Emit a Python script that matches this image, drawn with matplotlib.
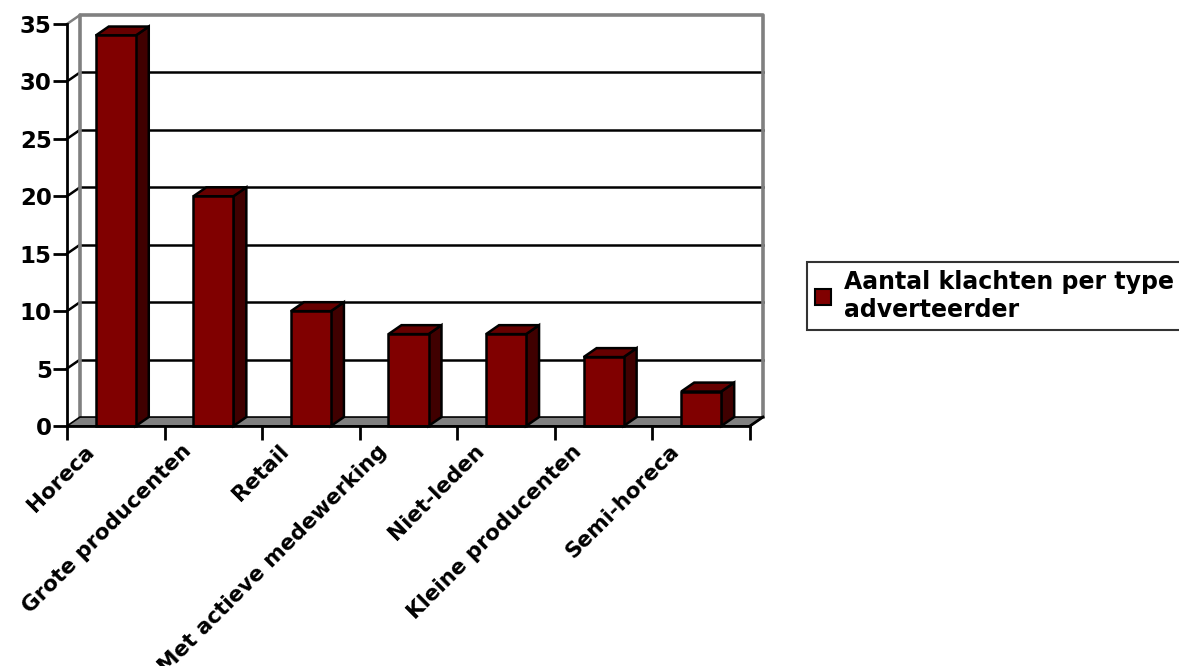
import matplotlib.pyplot as plt
from matplotlib.patches import Polygon, Patch

categories = ['Horeca', 'Grote producenten', 'Retail', 'Met actieve medewerking',
              'Niet-leden', 'Kleine producenten', 'Semi-horeca']
values = [34, 20, 10, 8, 8, 6, 3]
yticks = [0, 5, 10, 15, 20, 25, 30, 35]
series_name = 'Aantal klachten per type\nadverteerder'

FRONT = '#800000'
SIDE = '#400000'
TOP = '#660000'
WALL = '#808080'

plt.rcParams['font.family'] = ['DejaVu Sans']
plt.rcParams['font.weight'] = 'bold'

fig = plt.figure(figsize=(11.79, 6.66), dpi=100)
ax = fig.add_axes([67 / 1179, 1 - 426 / 666, 683 / 1179, 402 / 666])
n = len(categories)
ymax = yticks[-1]
ax.set_xlim(0, n)
ax.set_ylim(0, ymax)

# depth of the fake 3d box, in data units
dx = 0.133
dy = 0.78
lw = 1.8

# back wall: gridlines, gray edges and the little diagonals from the axis
for v in yticks[1:-1]:
    ax.plot([dx, n + dx], [v + dy, v + dy], color='black', lw=lw, clip_on=False, zorder=1)
    ax.plot([0, dx], [v, v + dy], color='black', lw=lw, clip_on=False, zorder=1)
ax.plot([dx, dx, n + dx, n + dx], [dy, ymax + dy, ymax + dy, dy],
        color=WALL, lw=2.6, clip_on=False, zorder=1)
ax.plot([0, dx], [ymax, ymax + dy], color=WALL, lw=lw, clip_on=False, zorder=1)

# floor
floor = Polygon([(0, 0), (n, 0), (n + dx, dy), (dx, dy)], closed=True,
                facecolor=WALL, edgecolor='black', lw=1.2, clip_on=False, zorder=2)
ax.add_patch(floor)

# bars
w = 0.41
for i, v in enumerate(values):
    xl = i + 0.5 - w / 2
    xr = i + 0.5 + w / 2
    side = Polygon([(xr, 0), (xr + dx, dy), (xr + dx, v + dy), (xr, v)],
                   facecolor=SIDE, edgecolor='black', lw=lw, clip_on=False, zorder=3)
    top = Polygon([(xl, v), (xr, v), (xr + dx, v + dy), (xl + dx, v + dy)],
                  facecolor=TOP, edgecolor='black', lw=lw, clip_on=False, zorder=3)
    front = Polygon([(xl, 0), (xr, 0), (xr, v), (xl, v)],
                    facecolor=FRONT, edgecolor='black', lw=lw, clip_on=False, zorder=4)
    for p in (side, top, front):
        ax.add_patch(p)

# axes: front left line and front bottom line with category ticks
for s in ('top', 'right'):
    ax.spines[s].set_visible(False)
ax.spines['left'].set_linewidth(2)
ax.spines['bottom'].set_linewidth(2)
ax.spines['left'].set_zorder(5)
ax.spines['bottom'].set_zorder(5)
ax.plot([n, n + dx], [0, dy], color='black', lw=2, clip_on=False, zorder=5)
ax.set_yticks(yticks)
ax.set_yticklabels([str(t) for t in yticks], fontsize=16.5, fontweight='bold')
ax.set_xticks(range(n + 1))
ax.set_xticklabels([])
ax.tick_params(axis='both', direction='out', length=10, width=2, color='black')
ax.tick_params(axis='y', pad=1)
ax.patch.set_visible(False)

for i, name in enumerate(categories):
    ax.annotate(name, (i + 0.5, 0), xytext=(-18, -15), textcoords='offset pixels',
                rotation=45, ha='right', va='top', fontsize=15.5, fontweight='bold',
                annotation_clip=False)

handle = Patch(facecolor=FRONT, edgecolor='black', lw=1.5)
leg = fig.legend([handle], [series_name], loc='upper left',
                 bbox_to_anchor=(807 / 1179, 1 - 262 / 666),
                 prop={'size': 17, 'weight': 'bold'}, frameon=True, fancybox=False,
                 borderpad=0.35, handlelength=0.65, handleheight=0.65,
                 handletextpad=0.55, labelspacing=0.1, borderaxespad=0)
leg.get_frame().set_edgecolor('black')
leg.get_frame().set_linewidth(1.5)

fig.savefig('out.png', dpi=100)
